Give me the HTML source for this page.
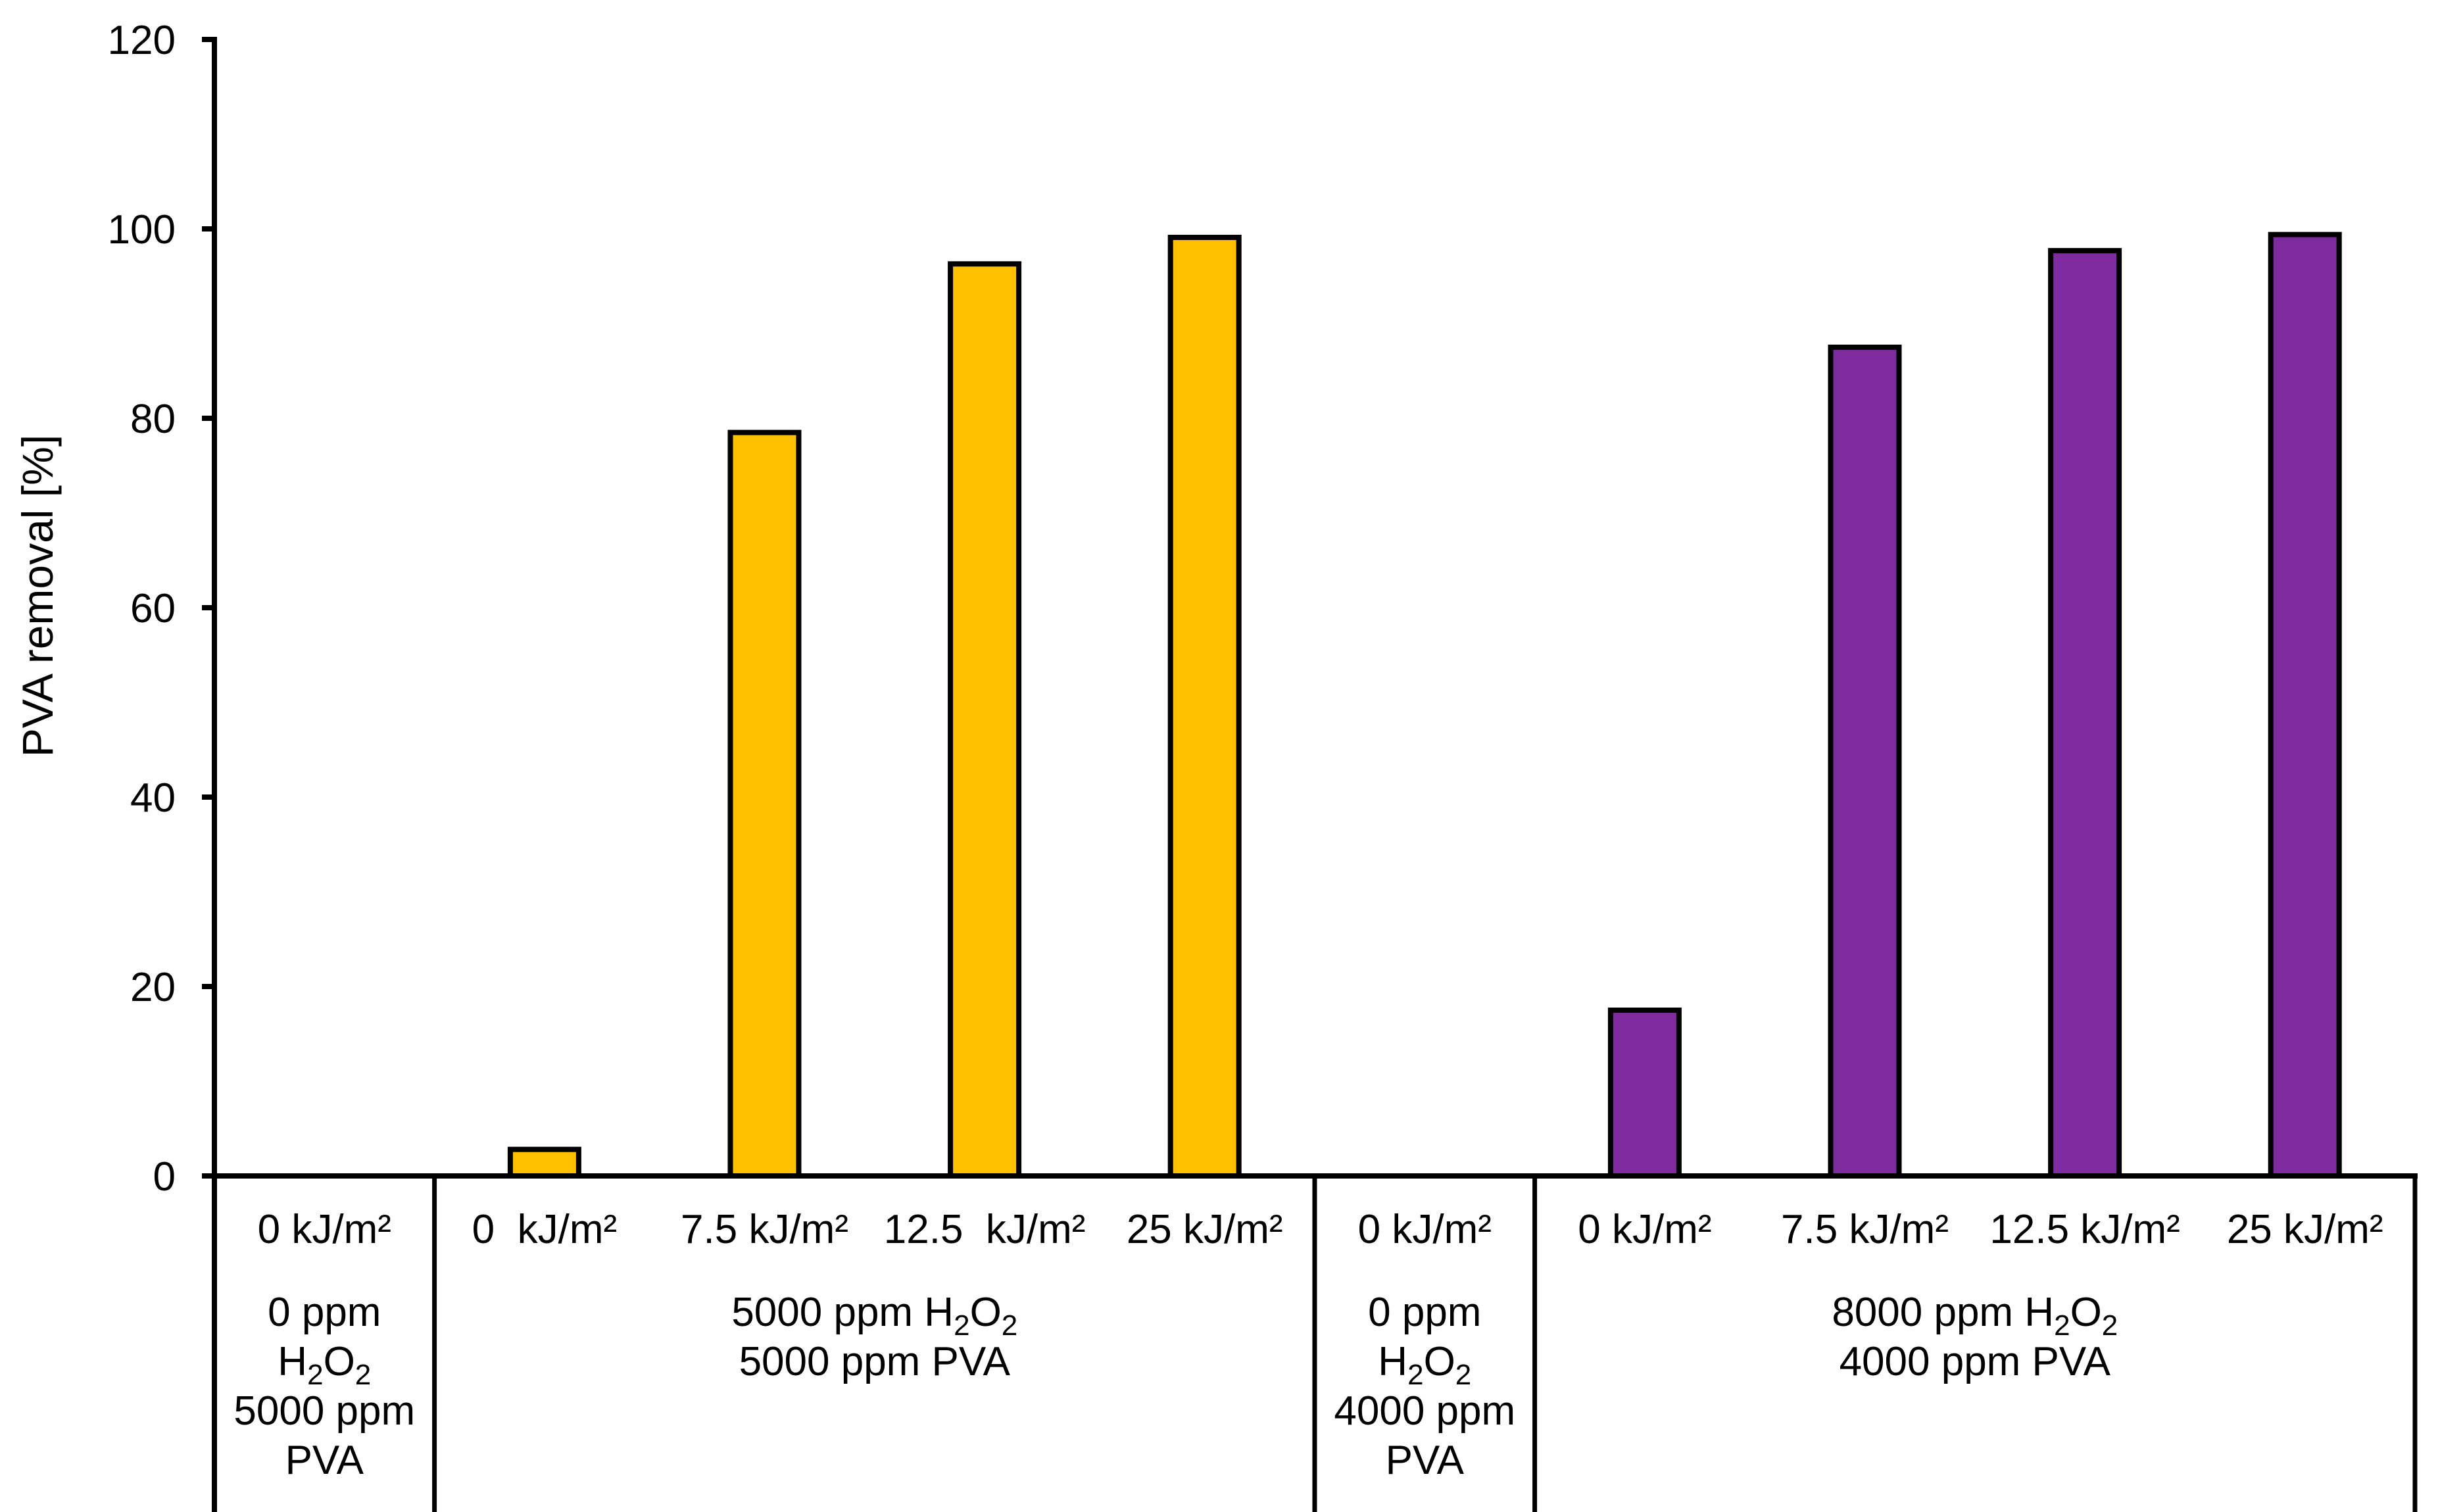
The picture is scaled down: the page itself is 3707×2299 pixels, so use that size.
<!DOCTYPE html>
<html><head><meta charset="utf-8"><style>
html,body{margin:0;padding:0;background:#fff;}
svg{display:block;font-family:"Liberation Sans",Arial,sans-serif;}
</style></head><body>
<svg id="chart" width="3707" height="2299" viewBox="0 0 3707 2299" xmlns="http://www.w3.org/2000/svg"></svg>
<script>
const categories = ["0 kJ/m\u00b2","0  kJ/m\u00b2","7.5 kJ/m\u00b2","12.5  kJ/m\u00b2","25 kJ/m\u00b2","0 kJ/m\u00b2","0 kJ/m\u00b2","7.5 kJ/m\u00b2","12.5 kJ/m\u00b2","25 kJ/m\u00b2"];
const yellowValues = [0, 2.8, 78.5, 96.3, 99.1, null, null, null, null, null];
const purpleValues = [null, null, null, null, null, 0, 17.5, 87.5, 97.7, 99.4];
const yTicks = [0, 20, 40, 60, 80, 100, 120];
const groupStarts = [0, 1, 5, 6];
const groupEnds = [1, 5, 6, 10];

const svg = document.getElementById('chart');
const NS = 'http://www.w3.org/2000/svg';
const X0 = 326, X1 = 3672, Y0 = 1788, YMAX = 120, PXU = 14.4;
const catW = (X1 - X0) / categories.length;
function xScale(i){ return X0 + catW * (i + 0.5); }
function yScale(v){ return Y0 - v * PXU; }
function mk(tag, attrs){ const e = document.createElementNS(NS, tag); for (const k in attrs) e.setAttribute(k, attrs[k]); svg.appendChild(e); return e; }

function drawBars(vals, color, series){
  vals.forEach((v, i) => {
    if (v === null || v <= 0) return;
    const bw = 104;
    const r = mk('rect', {x: xScale(i) - bw/2, y: yScale(v), width: bw, height: Y0 - yScale(v), fill: color, stroke: '#000', 'stroke-width': 8});
    
    
  });
}
drawBars(yellowValues, '#FFC000', 'yellow');
drawBars(purpleValues, '#7F2BA0', 'purple');

let ax = mk('line', {x1: X0, y1: yScale(YMAX) - 4, x2: X0, y2: 2299, stroke: '#000', 'stroke-width': 8});


let xa = mk('line', {x1: 307, y1: Y0, x2: X1 + 4, y2: Y0, stroke: '#000', 'stroke-width': 8});



yTicks.forEach(t => {
  const tk = mk('line', {x1: 307, y1: yScale(t), x2: X0, y2: yScale(t), stroke: '#000', 'stroke-width': 8});
  
  
  const tl = mk('text', {x: 267, y: yScale(t) + 22, 'text-anchor': 'end', 'font-size': 62, fill: '#000'});
  tl.textContent = t;
  
  
});

groupEnds.forEach(g => {
  const sx = X0 + catW * g;
  const l = mk('line', {x1: sx, y1: Y0, x2: sx, y2: 2299, stroke: '#000', 'stroke-width': 7});
  
  
});

categories.forEach((c, i) => {
  const t = mk('text', {x: xScale(i), y: 1890, 'text-anchor': 'middle', 'font-size': 62, fill: '#000'});
  t.setAttribute('xml:space', 'preserve');
  t.style.whiteSpace = 'pre';
  t.textContent = c;
  
  
});

function groupLabel(cx, lines){
  lines.forEach((ln, k) => {
    const t = mk('text', {x: cx, y: 2016 + k * 75, 'text-anchor': 'middle', 'font-size': 62, fill: '#000'});
    t.innerHTML = ln;
    
    
  });
}
const sub = '<tspan font-size="44" dy="14">2</tspan>';
const subO = '<tspan dy="-14">O</tspan>';
const h2o2 = 'H' + sub + subO + sub;
function gcx(g){ return X0 + catW * (groupStarts[g] + groupEnds[g]) / 2; }
groupLabel(gcx(0), ['0 ppm', h2o2, '5000 ppm', 'PVA']);
groupLabel(gcx(1), ['5000 ppm ' + h2o2, '5000 ppm PVA']);
groupLabel(gcx(2), ['0 ppm', h2o2, '4000 ppm', 'PVA']);
groupLabel(gcx(3), ['8000 ppm ' + h2o2, '4000 ppm PVA']);

const yt = mk('text', {x: 0, y: 0, 'text-anchor': 'middle', 'font-size': 66, fill: '#000', transform: 'translate(80,906) rotate(-90)'});
yt.textContent = 'PVA removal [%]';


</script>
</body></html>
